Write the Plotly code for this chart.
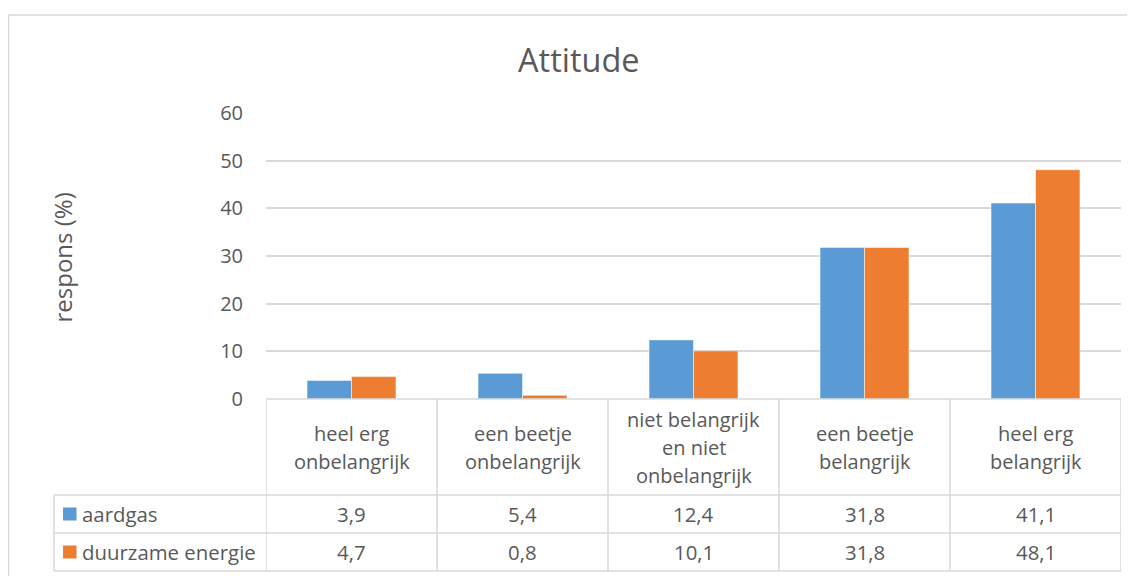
import plotly.graph_objects as go

# ---- data ----
categories = ["heel erg<br>onbelangrijk", "een beetje<br>onbelangrijk",
              "niet belangrijk<br>en niet<br>onbelangrijk", "een beetje<br>belangrijk",
              "heel erg<br>belangrijk"]
series_names = ["aardgas", "duurzame energie"]
aardgas = [3.9, 5.4, 12.4, 31.8, 41.1]
duurzame = [4.7, 0.8, 10.1, 31.8, 48.1]
series_values = [aardgas, duurzame]
colors = ["#5B9BD5", "#ED7D31"]
y_ticks = [0, 10, 20, 30, 40, 50, 60]

# ---- layout geometry (screen pixels) ----
OFF = 8                     # page body margin
SW, SH = 1135, 576          # window size
W, H = SW - OFF, SH - OFF   # figure size
PL, PR, PT, PB = 266, 1121, 113, 399   # plot area in screen pixels
PW, PH = PR - PL, PB - PT
GRID = "#d9d9d9"
TXT = "#595959"
FONT = "Open Sans"
LINE_SP = 28

def px_x(x):
    return (x - PL) / PW

def px_y(y):
    return (PB - y) / PH

fig = go.Figure()
for name, vals, col in zip(series_names, series_values, colors):
    fig.add_trace(go.Bar(x=list(range(len(categories))), y=vals, name=name,
                         marker=dict(color=col, line=dict(color="rgba(255,255,255,0.5)", width=1))))

shapes = []
annotations = []

# outer chart border
shapes.append(dict(type="rect", xref="paper", yref="paper",
                   x0=px_x(8.5), x1=px_x(SW + 20), y0=px_y(15), y1=px_y(SH + 20),
                   line=dict(color=GRID, width=1.5), fillcolor="rgba(0,0,0,0)", layer="below"))

# table rows (pixel y)
row_top, row_cat_bottom, row1_bottom, row2_bottom = 399, 495, 533, 571
legend_left = 54
line_style = dict(color=GRID, width=1.5)

# horizontal lines
shapes.append(dict(type="line", xref="paper", yref="paper", x0=0, x1=1,
                   y0=px_y(row_top), y1=px_y(row_top), line=line_style))
for yy in (row_cat_bottom, row1_bottom, row2_bottom):
    shapes.append(dict(type="line", xref="paper", yref="paper", x0=px_x(legend_left), x1=1,
                       y0=px_y(yy), y1=px_y(yy), line=line_style))
# vertical lines
shapes.append(dict(type="line", xref="paper", yref="paper", x0=px_x(legend_left), x1=px_x(legend_left),
                   y0=px_y(row_cat_bottom), y1=px_y(row2_bottom), line=line_style))
for i in range(len(categories) + 1):
    shapes.append(dict(type="line", xref="x", yref="paper", x0=i - 0.5, x1=i - 0.5,
                       y0=px_y(row_top), y1=px_y(row2_bottom), line=line_style))

# category labels (one annotation per line for Excel-like line spacing)
cell_mid = (row_top + row_cat_bottom) / 2 + 0.5
for i, cat in enumerate(categories):
    lines = cat.split("<br>")
    n = len(lines)
    for k, ln in enumerate(lines):
        yy = cell_mid + (k - (n - 1) / 2) * LINE_SP
        annotations.append(dict(x=i, y=px_y(yy), xref="x", yref="paper",
                                text=ln, showarrow=False, xanchor="center", yanchor="middle",
                                font=dict(family=FONT, size=20, color=TXT)))

# data rows
row_bounds = [(row_cat_bottom, row1_bottom), (row1_bottom, row2_bottom)]
for (r0, r1), name, vals, col in zip(row_bounds, series_names, series_values, colors):
    yc = (r0 + r1) / 2
    shapes.append(dict(type="rect", xref="paper", yref="paper",
                       x0=px_x(63), x1=px_x(76.5), y0=px_y(yc - 6.5), y1=px_y(yc + 6.5),
                       fillcolor=col, line=dict(width=0)))
    annotations.append(dict(x=px_x(80), y=px_y(yc), xref="paper", yref="paper", text=name,
                            showarrow=False, xanchor="left", yanchor="middle",
                            font=dict(family=FONT, size=20.4, color=TXT)))
    for i, v in enumerate(vals):
        annotations.append(dict(x=i, y=px_y(yc), xref="x", yref="paper",
                                text=f"{v:.1f}".replace(".", ","), showarrow=False,
                                xanchor="center", yanchor="middle",
                                font=dict(family=FONT, size=20.4, color=TXT)))

# title
annotations.append(dict(x=px_x(579), y=px_y(60), xref="paper", yref="paper", text="Attitude",
                        showarrow=False, xanchor="center", yanchor="middle",
                        font=dict(family=FONT, size=32.5, color=TXT)))
# y-axis title
annotations.append(dict(x=px_x(62), y=px_y(257.5), xref="paper", yref="paper", text="respons (%)",
                        showarrow=False, xanchor="center", yanchor="middle", textangle=-90,
                        font=dict(family=FONT, size=24, color=TXT)))

fig.update_layout(
    width=W, height=H,
    margin=dict(l=PL - OFF, r=SW - PR, t=PT - OFF, b=SH - PB, pad=0),
    paper_bgcolor="white", plot_bgcolor="white",
    barmode="group", bargap=0.48, bargroupgap=0,
    showlegend=False,
    shapes=shapes, annotations=annotations,
    font=dict(family=FONT, size=20, color=TXT),
    xaxis=dict(range=[-0.5, len(categories) - 0.5], showticklabels=False, showgrid=False,
               zeroline=False, showline=False, fixedrange=True),
    yaxis=dict(range=[0, 60], tickvals=y_ticks, showgrid=True, gridcolor=GRID, gridwidth=1.5,
               zeroline=False, showline=False, ticks="", ticklabelstandoff=22,
               tickfont=dict(family=FONT, size=20, color=TXT), fixedrange=True),
)

fig.write_html("out.html")
